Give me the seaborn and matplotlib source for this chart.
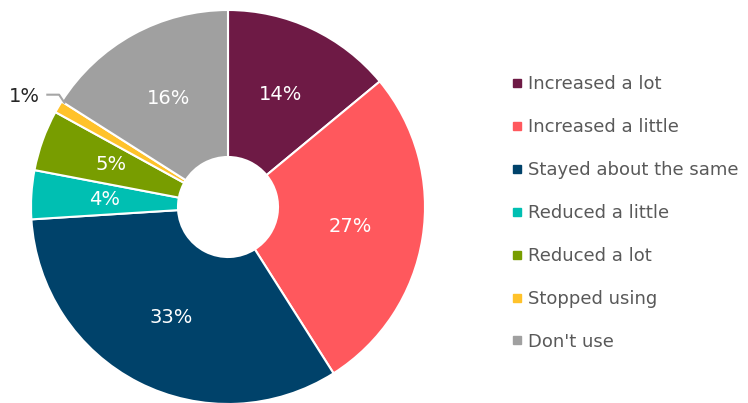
import matplotlib
matplotlib.use("Agg")
import matplotlib.pyplot as plt
from matplotlib.lines import Line2D
import seaborn as sns
import numpy as np

categories = ["Increased a lot", "Increased a little", "Stayed about the same",
              "Reduced a little", "Reduced a lot", "Stopped using", "Don't use"]
values = [14, 27, 33, 4, 5, 1, 16]
colors = ["#6E1A45", "#FF585D", "#00426A", "#00BFB2", "#789D00", "#FFC22A", "#A0A0A0"]

sns.set_theme(style="white")
plt.rcParams["font.family"] = ["DejaVu Sans"]

W, H = 748, 403
fig = plt.figure(figsize=(W / 100, H / 100), dpi=100)

cx, cy, R = 228, 207, 197
ax = fig.add_axes([(cx - R) / W, (H - cy - R) / H, 2 * R / W, 2 * R / H])

wedges, _ = ax.pie(values, colors=colors, startangle=90, counterclock=False,
                   radius=1.0,
                   wedgeprops=dict(width=1 - 50 / R, edgecolor="white", linewidth=1.5))
ax.set_xlim(-1, 1)
ax.set_ylim(-1, 1)
ax.set_aspect("equal")
ax.axis("off")

# percentage labels: inside for larger wedges, outside with a leader line for tiny ones
for w, v in zip(wedges, values):
    ang = np.deg2rad((w.theta1 + w.theta2) / 2)
    if v >= 3:
        r = 0.63
        ax.text(r * np.cos(ang), r * np.sin(ang), f"{v}%", color="white",
                ha="center", va="center", fontsize=14)
    else:
        edge = np.deg2rad(min(w.theta1, w.theta2))
        xe, ye = 0.98 * np.cos(edge), 0.98 * np.sin(edge)
        yk = ye + 0.045
        xk = xe - 0.03
        ax.plot([xe, xk, xk - 0.065], [ye, yk, yk], color="#A6A6A6", lw=1.5,
                clip_on=False, solid_capstyle="butt")
        ax.text(xk - 0.095, yk - 0.01, f"{v}%", color="#262626", ha="right",
                va="center", fontsize=14)

handles = [Line2D([0], [0], marker="s", linestyle="none", markersize=5.5,
                  markerfacecolor=c, markeredgecolor=c) for c in colors]
fig.legend(handles, categories, loc="center left",
           bbox_to_anchor=(501 / W, 1 - 213 / H),
           frameon=False, fontsize=13, labelcolor="#595959",
           handletextpad=0.1, labelspacing=1.38, handlelength=1.0,
           borderaxespad=0)

fig.savefig("out.png", dpi=100)
